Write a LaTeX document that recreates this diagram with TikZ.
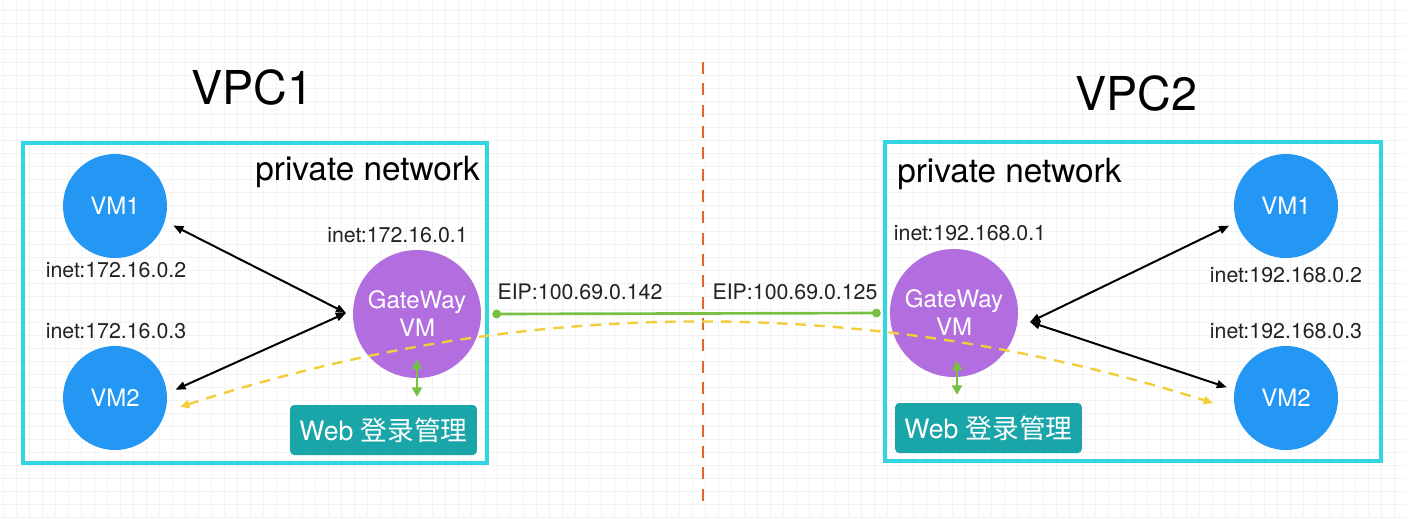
\documentclass[tikz,border=0pt]{standalone}
\usepackage{fontspec}
\setmainfont{TeX Gyre Heros}
\newfontfamily\cjk{Noto Sans CJK SC}
\usetikzlibrary{arrows.meta,calc}
\definecolor{vmblue}{HTML}{2397F3}
\definecolor{gwpurple}{HTML}{B26EDE}
\definecolor{webteal}{HTML}{1AA6A8}
\definecolor{boxcyan}{HTML}{33D5E0}
\definecolor{linkgreen}{HTML}{77C043}
\definecolor{flowyellow}{HTML}{F2CE3C}
\definecolor{splitorange}{HTML}{E2662A}
\definecolor{gridgray}{HTML}{F3F3F3}
\definecolor{txt}{HTML}{222222}
\tikzset{
  gridline/.style={draw=gridgray, line width=0.6pt},
  netbox/.style={draw=boxcyan, line width=2.6pt},
  vm/.style={circle, fill=vmblue, minimum size=78pt, inner sep=0pt, text=white, font=\fontsize{18}{21}\selectfont},
  gw/.style={circle, fill=gwpurple, minimum size=96pt, inner sep=0pt, text=white, align=center, font=\fontsize{18}{21}\selectfont},
  webbox/.style={rounded corners=3pt, fill=webteal, minimum width=140pt, minimum height=37.5pt, inner sep=0pt, text=white, font=\fontsize{20}{24}\selectfont},
  lbl/.style={anchor=base, inner sep=0pt, text=txt, font=\fontsize{16}{19}\selectfont},
  title/.style={inner sep=0pt, text=black, font=\fontsize{35}{40}\selectfont},
  nettitle/.style={inner sep=0pt, text=black, font=\fontsize{25}{30}\selectfont},
  bia/.style={line width=1.5pt, black, {Triangle[length=7.5pt,width=6pt]}-{Triangle[length=7.5pt,width=6pt]}},
  garrow/.style={line width=1.6pt, linkgreen, {Triangle[length=7pt,width=7.5pt]}-{Triangle[length=7pt,width=7.5pt]}},
  glink/.style={line width=2pt, linkgreen, {Circle[length=6.5pt]}-{Circle[length=6.5pt]}},
  flow/.style={line width=1.8pt, flowyellow, dash pattern=on 8pt off 6pt, {Triangle[length=7pt,width=6pt]}-{Triangle[length=7pt,width=6pt]}},
  split/.style={line width=1.6pt, splitorange, dash pattern=on 9pt off 7pt}
}
\begin{document}
\begin{tikzpicture}[x=0.75pt,y=-0.75pt]
\useasboundingbox (0,0) rectangle (1406,518);
\fill[white] (0,0) rectangle (1406,518);
\foreach \i in {0,...,107} {\draw[gridline] ({3.7+13*\i},0) -- ({3.7+13*\i},518);}
\foreach \j in {0,...,39} {\draw[gridline] (0,{10+13*\j}) -- (1406,{10+13*\j});}

% split line
\coordinate (st) at (703,62);
\coordinate (sb) at (703,505);
\draw[split] (st) -- (sb);

% titles
\node[title] (vpc1) at (252,87) {VPC1};
\node[title] (vpc2) at (1136,93) {VPC2};

% network boxes
\draw[netbox] (23,143) rectangle (487,463);
\draw[netbox] (885,142) rectangle (1381,461);
\node[nettitle, anchor=base east] (pn1) at (480,180) {private network};
\node[nettitle, anchor=base west] (pn2) at (897,182) {private network};

% left VPC
\node[vm] (l1) at (115,206) {VM1};
\node[vm] (l2) at (115,398) {VM2};
\node[gw] (lg) at (417,314) {GateWay\\VM};
\node[webbox] (lweb) at (383.5,430) {Web {\cjk 登录管理}};
\node[lbl] (li1) at (397.5,242) {inet:172.16.0.1};
\node[lbl] (li2) at (116,277) {inet:172.16.0.2};
\node[lbl] (li3) at (116,338) {inet:172.16.0.3};
\coordinate (lj) at (346,313);
\draw[bia, shorten <=7pt] (l1.-17) -- (lj);
\draw[bia, shorten <=7pt] (l2.5) -- (lj);
\draw[garrow, shorten <=-14pt, shorten >=6pt] (lg.south) -- (lg.south |- lweb.north);

% right VPC
\node[vm] (r1) at (1286,206) {VM1};
\node[vm] (r2) at (1286,398) {VM2};
\node[gw] (rg) at (954,313) {GateWay\\VM};
\node[webbox] (rweb) at (988.5,428) {Web {\cjk 登录管理}};
\node[lbl] (ri1) at (970,240) {inet:192.168.0.1};
\node[lbl] (ri2) at (1286,282) {inet:192.168.0.2};
\node[lbl] (ri3) at (1286,338) {inet:192.168.0.3};
\coordinate (rj) at (1030,322);
\draw[bia, shorten >=6pt] (rj) -- (r1.-162);
\draw[bia, shorten >=6pt] (rj) -- (r2.171);
\coordinate (rgs) at (957,378);
\draw[garrow, shorten <=-13pt, shorten >=6pt] (rgs) -- (rgs |- rweb.north);

% EIP link
\node[lbl] (eip1) at (580,299) {EIP:100.69.0.142};
\node[lbl] (eip2) at (795,299) {EIP:100.69.0.125};
\draw[glink] ($(lg.east)+(11,0)$) -- ($(rg.west)+(-9,0)$);

% traffic flow
\coordinate (ya) at (180,407);
\coordinate (yb) at (1213,403);
\draw[flow] (ya) .. controls (523,295) and (867,294) .. (yb);
\end{tikzpicture}
\end{document}
